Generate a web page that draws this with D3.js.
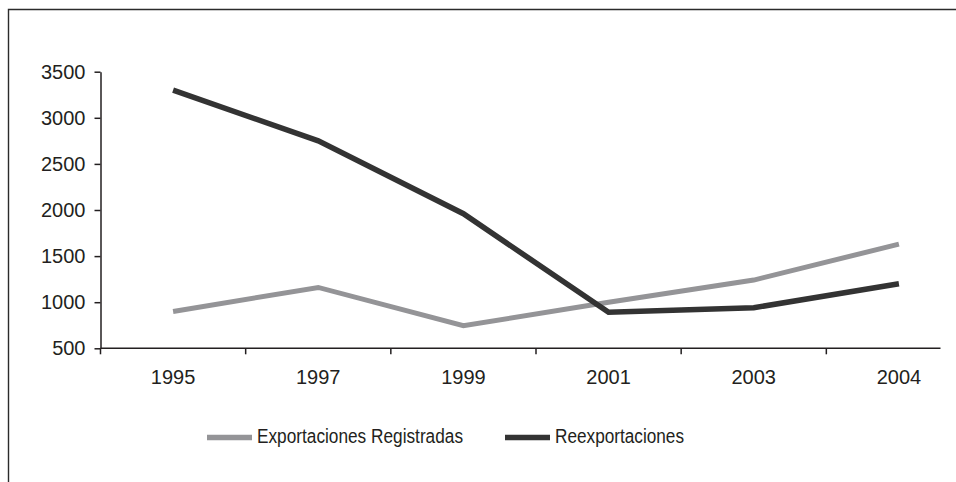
<!DOCTYPE html>
<html>
<head>
<meta charset="utf-8">
<script src="https://cdn.jsdelivr.net/npm/d3@7"></script>
<style>
  html, body { margin: 0; padding: 0; background: #fff; }
  svg { display: block; }
  text { font-family: "Liberation Sans", Arial, sans-serif; fill: #231f20; }
</style>
</head>
<body>
<svg id="chart" width="956" height="482"></svg>
<script>
const years = ["1995", "1997", "1999", "2001", "2003", "2004"];
const exportaciones = [900, 1160, 745, 1000, 1240, 1630];
const reexportaciones = [3300, 2750, 1960, 890, 940, 1200];
const yTicks = [500, 1000, 1500, 2000, 2500, 3000, 3500];
const seriesNames = ["Exportaciones Registradas", "Reexportaciones"];
const seriesColors = ["#949497", "#333333"];

const svg = d3.select("#chart");

// frame
svg.append("path")
  .attr("d", "M8.5,482 L8.5,9.5 L956,9.5")
  .attr("fill", "none").attr("stroke", "#2b2b2b").attr("stroke-width", 1.4);

const x = d3.scaleBand().domain(years).range([100.5, 971.5]);
const y = d3.scaleLinear().domain([500, 3500]).range([348.3, 71.7]);
const axisColor = "#231f20";

// y axis
const yAxis = svg.append("g").attr("transform", "translate(100.5,0)")
  .call(d3.axisLeft(y).tickValues(yTicks).tickFormat(d3.format("d"))
    .tickSize(6).tickPadding(9).tickSizeOuter(0));
yAxis.select(".domain").attr("stroke", axisColor).attr("stroke-width", 1.5);
yAxis.selectAll(".tick line").attr("stroke", axisColor).attr("stroke-width", 1.5);
yAxis.selectAll(".tick text").attr("font-size", 20).attr("fill", "#231f20")
  .style("font-family", "'Liberation Sans', Arial, sans-serif");

// x axis (ticks between categories)
const xg = svg.append("g");
xg.append("line")
  .attr("x1", x.range()[0]).attr("x2", 940.5)
  .attr("y1", y(500)).attr("y2", y(500))
  .attr("stroke", axisColor).attr("stroke-width", 1.5);
xg.selectAll("line.tick").data(years).enter().append("line")
  .attr("class", "tick")
  .attr("x1", d => x(d)).attr("x2", d => x(d))
  .attr("y1", y(500)).attr("y2", y(500) + 6)
  .attr("stroke", axisColor).attr("stroke-width", 1.5);
xg.selectAll("text").data(years).enter().append("text")
  .attr("x", d => x(d) + x.bandwidth() / 2)
  .attr("y", 384)
  .attr("text-anchor", "middle")
  .attr("font-size", 20)
  .text(d => d);

// lines
const line = d3.line()
  .x((d, i) => x(years[i]) + x.bandwidth() / 2)
  .y(d => y(d));

svg.append("path").datum(exportaciones)
  .attr("d", line).attr("fill", "none")
  .attr("stroke", seriesColors[0]).attr("stroke-width", 5)
  .attr("stroke-linejoin", "miter");
svg.append("path").datum(reexportaciones)
  .attr("d", line).attr("fill", "none")
  .attr("stroke", seriesColors[1]).attr("stroke-width", 5.5)
  .attr("stroke-linejoin", "miter");

// legend
const legendItems = [
  { name: seriesNames[0], color: seriesColors[0], x: 207, w: 206 },
  { name: seriesNames[1], color: seriesColors[1], x: 505, w: 129 }
];
const lg = svg.append("g");
legendItems.forEach(it => {
  lg.append("line")
    .attr("x1", it.x).attr("x2", it.x + 45)
    .attr("y1", 437.5).attr("y2", 437.5)
    .attr("stroke", it.color).attr("stroke-width", 5.5);
  lg.append("text")
    .attr("x", it.x + 50).attr("y", 443)
    .attr("font-size", 20)
    .attr("textLength", it.w)
    .attr("lengthAdjust", "spacingAndGlyphs")
    .text(it.name);
});
</script>
</body>
</html>
